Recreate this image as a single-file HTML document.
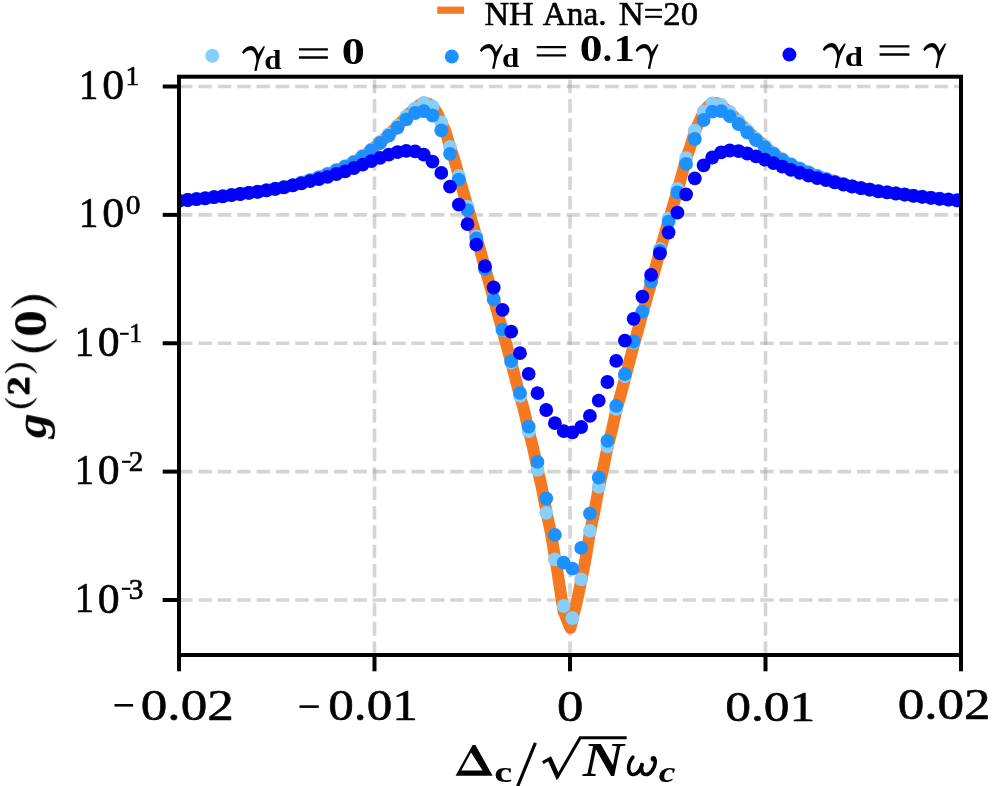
<!DOCTYPE html>
<html><head><meta charset="utf-8"><title>g2 plot</title>
<style>
html,body{margin:0;padding:0;background:#fff;}
body{width:998px;height:786px;overflow:hidden;font-family:"Liberation Serif",serif;}
svg{display:block;}
text{font-family:"Liberation Serif",serif;fill:#000;}
.b{font-weight:bold;}
.bi{font-weight:bold;font-style:italic;}
</style></head><body>
<svg width="998" height="786" viewBox="0 0 998 786">
<rect width="998" height="786" fill="#fff"/>
<defs><clipPath id="ax"><rect x="179.0" y="76.7" width="782.0" height="578.3"/></clipPath></defs>
<g stroke="#808080" stroke-opacity="0.33" stroke-width="3.6" stroke-dasharray="13.52 5.85" fill="none"><line x1="179.0" y1="86.50" x2="961.0" y2="86.50"/><line x1="179.0" y1="214.88" x2="961.0" y2="214.88"/><line x1="179.0" y1="343.25" x2="961.0" y2="343.25"/><line x1="179.0" y1="471.62" x2="961.0" y2="471.62"/><line x1="179.0" y1="600.00" x2="961.0" y2="600.00"/><line x1="179.0" y1="655.0" x2="179.0" y2="76.7"/><line x1="374.5" y1="655.0" x2="374.5" y2="76.7"/><line x1="570.0" y1="655.0" x2="570.0" y2="76.7"/><line x1="765.5" y1="655.0" x2="765.5" y2="76.7"/><line x1="961.0" y1="655.0" x2="961.0" y2="76.7"/></g>
<g clip-path="url(#ax)">
<path d="M177.0,200.8 L179.0,200.7 L181.0,200.5 L183.0,200.3 L185.0,200.1 L187.0,199.9 L189.0,199.7 L191.0,199.6 L193.0,199.4 L195.0,199.2 L197.0,199.0 L199.0,198.8 L201.0,198.6 L203.0,198.4 L205.0,198.2 L207.0,197.9 L209.0,197.7 L211.0,197.5 L213.0,197.3 L215.0,197.0 L217.0,196.8 L219.0,196.6 L221.0,196.3 L223.0,196.1 L225.0,195.9 L227.0,195.6 L229.0,195.4 L231.0,195.1 L233.0,194.8 L235.0,194.5 L237.0,194.3 L239.0,194.0 L241.0,193.8 L243.0,193.5 L245.0,193.3 L247.0,193.0 L249.0,192.8 L251.0,192.5 L253.0,192.3 L255.0,192.0 L257.0,191.8 L259.0,191.5 L261.0,191.3 L263.0,191.0 L265.0,190.6 L267.0,190.2 L269.0,189.8 L271.0,189.5 L273.0,189.1 L275.0,188.8 L277.0,188.5 L279.0,188.1 L281.0,187.7 L283.0,187.4 L285.0,187.0 L287.0,186.6 L289.0,186.1 L291.0,185.7 L293.0,185.2 L295.0,184.7 L297.0,184.0 L299.0,183.4 L301.0,182.7 L303.0,182.1 L305.0,181.5 L307.0,180.9 L309.0,180.3 L311.0,179.7 L313.0,179.2 L315.0,178.6 L317.0,177.9 L319.0,177.3 L321.0,176.6 L323.0,175.8 L325.0,175.1 L327.0,174.3 L329.0,173.5 L331.0,172.7 L333.0,171.9 L335.0,171.1 L337.0,170.2 L339.0,169.4 L341.0,168.5 L343.0,167.6 L345.0,166.7 L347.0,165.7 L349.0,164.7 L351.0,163.7 L353.0,162.6 L355.0,161.5 L357.0,160.2 L359.0,158.9 L361.0,157.6 L363.0,156.2 L365.0,154.8 L367.0,153.3 L369.0,151.9 L371.0,150.3 L373.0,148.7 L375.0,146.9 L377.0,145.1 L379.0,143.3 L381.0,141.6 L383.0,140.0 L385.0,138.3 L387.0,136.5 L389.0,134.5 L391.0,132.5 L393.0,130.5 L395.0,128.6 L397.0,126.7 L399.0,124.5 L401.0,122.2 L403.0,120.2 L405.0,118.2 L407.0,116.1 L409.0,113.8 L411.0,112.0 L413.0,110.5 L415.0,109.0 L417.0,107.0 L419.0,105.2 L421.0,104.1 L423.0,103.2 L425.0,103.0 L427.0,103.3 L429.0,103.9 L431.0,105.3 L433.0,107.1 L435.0,109.6 L437.0,112.8 L439.0,117.1 L441.0,121.8 L443.0,126.0 L445.0,130.3 L447.0,136.3 L449.0,143.4 L451.0,149.7 L453.0,155.4 L455.0,161.9 L457.0,169.3 L459.0,176.7 L461.0,183.8 L463.0,190.9 L465.0,197.9 L467.0,204.9 L469.0,211.7 L471.0,218.4 L473.0,225.1 L475.0,231.9 L477.0,238.9 L479.0,246.1 L481.0,253.4 L483.0,260.7 L485.0,268.0 L487.0,275.1 L489.0,282.2 L491.0,289.2 L493.0,296.3 L495.0,303.4 L497.0,310.5 L499.0,317.6 L501.0,324.8 L503.0,332.0 L505.0,339.3 L507.0,346.7 L509.0,354.2 L511.0,361.6 L513.0,369.3 L515.0,377.0 L517.0,384.7 L519.0,392.3 L521.0,399.5 L523.0,406.4 L525.0,414.4 L527.0,423.4 L529.0,432.0 L531.0,439.5 L533.0,447.5 L535.0,456.8 L537.0,466.6 L539.0,475.4 L541.0,483.8 L543.0,493.6 L545.0,504.4 L547.0,514.7 L549.0,523.7 L551.0,533.6 L553.0,545.5 L555.0,557.7 L556.7,567.0 L563.5,611.0 L570.4,628.0 L577.2,600.0 L584.1,566.7 L586.0,556.3 L588.0,544.0 L590.0,532.2 L592.0,522.6 L594.0,513.5 L596.0,503.0 L598.0,492.0 L600.0,482.4 L602.0,473.9 L604.0,464.6 L606.0,454.6 L608.0,445.3 L610.0,437.5 L612.0,429.6 L614.0,420.5 L616.0,411.6 L618.0,404.1 L620.0,397.3 L622.0,389.9 L624.0,382.2 L626.0,374.5 L628.0,366.8 L630.0,359.2 L632.0,351.7 L634.0,344.3 L636.0,337.0 L638.0,329.7 L640.0,322.4 L642.0,315.3 L644.0,308.2 L646.0,301.1 L648.0,294.0 L650.0,287.0 L652.0,279.9 L654.0,272.8 L656.0,265.7 L658.0,258.4 L660.0,251.0 L662.0,243.7 L664.0,236.6 L666.0,229.7 L668.0,222.9 L670.0,216.3 L672.0,209.5 L674.0,202.6 L676.0,195.7 L678.0,188.6 L680.0,181.5 L682.0,174.4 L684.0,166.9 L686.0,159.7 L688.0,153.5 L690.0,147.8 L692.0,141.1 L694.0,134.2 L696.0,128.8 L698.0,124.7 L700.0,120.3 L702.0,115.6 L704.0,111.6 L706.0,108.7 L708.0,106.5 L710.0,104.8 L712.0,103.6 L714.0,103.2 L716.0,103.0 L718.0,103.6 L720.0,104.5 L722.0,105.7 L724.0,107.8 L726.0,109.6 L728.0,111.0 L730.0,112.6 L732.0,114.6 L734.0,116.8 L736.0,118.8 L738.0,120.8 L740.0,123.0 L742.0,125.3 L744.0,127.3 L746.0,129.2 L748.0,131.1 L750.0,133.1 L752.0,135.1 L754.0,137.0 L756.0,138.9 L758.0,140.5 L760.0,142.1 L762.0,143.8 L764.0,145.6 L766.0,147.4 L768.0,149.2 L770.0,150.8 L772.0,152.3 L774.0,153.8 L776.0,155.2 L778.0,156.6 L780.0,158.0 L782.0,159.3 L784.0,160.6 L786.0,161.8 L788.0,163.0 L790.0,164.0 L792.0,165.0 L794.0,166.0 L796.0,167.0 L798.0,167.9 L800.0,168.8 L802.0,169.6 L804.0,170.5 L806.0,171.3 L808.0,172.1 L810.0,172.9 L812.0,173.7 L814.0,174.5 L816.0,175.3 L818.0,176.1 L820.0,176.8 L822.0,177.5 L824.0,178.1 L826.0,178.7 L828.0,179.3 L830.0,179.9 L832.0,180.5 L834.0,181.1 L836.0,181.7 L838.0,182.3 L840.0,182.9 L842.0,183.6 L844.0,184.2 L846.0,184.8 L848.0,185.4 L850.0,185.9 L852.0,186.3 L854.0,186.7 L856.0,187.1 L858.0,187.5 L860.0,187.9 L862.0,188.2 L864.0,188.6 L866.0,188.9 L868.0,189.2 L870.0,189.6 L872.0,190.0 L874.0,190.3 L876.0,190.7 L878.0,191.1 L880.0,191.4 L882.0,191.6 L884.0,191.9 L886.0,192.1 L888.0,192.4 L890.0,192.6 L892.0,192.9 L894.0,193.1 L896.0,193.4 L898.0,193.6 L900.0,193.9 L902.0,194.1 L904.0,194.4 L906.0,194.6 L908.0,194.9 L910.0,195.2 L912.0,195.5 L914.0,195.7 L916.0,196.0 L918.0,196.2 L920.0,196.4 L922.0,196.6 L924.0,196.9 L926.0,197.1 L928.0,197.3 L930.0,197.6 L932.0,197.8 L934.0,198.0 L936.0,198.3 L938.0,198.5 L940.0,198.7 L942.0,198.9 L944.0,199.1 L946.0,199.3 L948.0,199.4 L950.0,199.6 L952.0,199.8 L954.0,200.0 L956.0,200.2 L958.0,200.4 L960.0,200.5 L962.0,200.7" fill="none" stroke="#f47920" stroke-width="12.0" stroke-linejoin="round" stroke-linecap="butt"/>
<g fill="#87cefa"><circle cx="179.0" cy="200.6" r="6.9"/><circle cx="187.7" cy="199.8" r="6.9"/><circle cx="196.5" cy="199.0" r="6.9"/><circle cx="205.2" cy="198.1" r="6.9"/><circle cx="214.0" cy="197.0" r="6.9"/><circle cx="222.7" cy="196.1" r="6.9"/><circle cx="231.5" cy="194.9" r="6.9"/><circle cx="240.2" cy="193.8" r="6.9"/><circle cx="248.9" cy="192.7" r="6.9"/><circle cx="257.7" cy="191.6" r="6.9"/><circle cx="266.4" cy="190.2" r="6.9"/><circle cx="275.2" cy="188.7" r="6.9"/><circle cx="283.9" cy="187.1" r="6.9"/><circle cx="292.7" cy="185.2" r="6.9"/><circle cx="301.4" cy="182.5" r="6.9"/><circle cx="310.1" cy="179.9" r="6.9"/><circle cx="318.9" cy="177.1" r="6.9"/><circle cx="327.6" cy="173.7" r="6.9"/><circle cx="336.4" cy="170.0" r="6.9"/><circle cx="345.1" cy="166.1" r="6.9"/><circle cx="353.9" cy="161.6" r="6.9"/><circle cx="362.6" cy="156.0" r="6.9"/><circle cx="371.3" cy="149.5" r="6.9"/><circle cx="380.1" cy="141.8" r="6.9"/><circle cx="388.8" cy="134.2" r="6.9"/><circle cx="397.6" cy="125.6" r="6.9"/><circle cx="406.3" cy="116.4" r="6.9"/><circle cx="415.1" cy="108.5" r="6.9"/><circle cx="423.8" cy="103.0" r="6.9"/><circle cx="432.5" cy="106.6" r="6.9"/><circle cx="441.3" cy="122.5" r="6.9"/><circle cx="450.0" cy="146.8" r="6.9"/><circle cx="458.8" cy="175.9" r="6.9"/><circle cx="467.5" cy="206.7" r="6.9"/><circle cx="476.3" cy="236.3" r="6.9"/><circle cx="485.0" cy="268.0" r="6.9"/><circle cx="493.7" cy="299.0" r="6.9"/><circle cx="502.5" cy="330.2" r="6.9"/><circle cx="511.2" cy="362.5" r="6.9"/><circle cx="520.0" cy="395.9" r="6.9"/><circle cx="528.7" cy="431.2" r="6.9"/><circle cx="537.5" cy="469.9" r="6.9"/><circle cx="546.2" cy="512.8" r="6.9"/><circle cx="554.9" cy="559.4" r="6.9"/><circle cx="563.7" cy="606.0" r="6.9"/><circle cx="572.4" cy="618.0" r="6.9"/><circle cx="581.2" cy="579.4" r="6.9"/><circle cx="589.9" cy="530.8" r="6.9"/><circle cx="598.7" cy="486.9" r="6.9"/><circle cx="607.4" cy="446.4" r="6.9"/><circle cx="616.2" cy="408.9" r="6.9"/><circle cx="624.9" cy="376.2" r="6.9"/><circle cx="633.6" cy="342.5" r="6.9"/><circle cx="642.4" cy="311.6" r="6.9"/><circle cx="651.1" cy="280.7" r="6.9"/><circle cx="659.9" cy="249.1" r="6.9"/><circle cx="668.6" cy="218.7" r="6.9"/><circle cx="677.4" cy="188.9" r="6.9"/><circle cx="686.1" cy="158.2" r="6.9"/><circle cx="694.8" cy="130.7" r="6.9"/><circle cx="703.6" cy="111.7" r="6.9"/><circle cx="712.3" cy="103.4" r="6.9"/><circle cx="721.1" cy="105.0" r="6.9"/><circle cx="729.8" cy="112.2" r="6.9"/><circle cx="738.6" cy="121.2" r="6.9"/><circle cx="747.3" cy="130.3" r="6.9"/><circle cx="756.0" cy="138.7" r="6.9"/><circle cx="764.8" cy="146.2" r="6.9"/><circle cx="773.5" cy="153.2" r="6.9"/><circle cx="782.3" cy="159.2" r="6.9"/><circle cx="791.0" cy="164.2" r="6.9"/><circle cx="799.8" cy="168.3" r="6.9"/><circle cx="808.5" cy="172.1" r="6.9"/><circle cx="817.2" cy="175.7" r="6.9"/><circle cx="826.0" cy="178.7" r="6.9"/><circle cx="834.7" cy="181.3" r="6.9"/><circle cx="843.5" cy="184.1" r="6.9"/><circle cx="852.2" cy="186.3" r="6.9"/><circle cx="861.0" cy="188.0" r="6.9"/><circle cx="869.7" cy="189.5" r="6.9"/><circle cx="878.4" cy="191.1" r="6.9"/><circle cx="887.2" cy="192.2" r="6.9"/><circle cx="895.9" cy="193.3" r="6.9"/><circle cx="904.7" cy="194.4" r="6.9"/><circle cx="913.4" cy="195.6" r="6.9"/><circle cx="922.2" cy="196.6" r="6.9"/><circle cx="930.9" cy="197.6" r="6.9"/><circle cx="939.6" cy="198.6" r="6.9"/><circle cx="948.4" cy="199.4" r="6.9"/><circle cx="957.1" cy="200.2" r="6.9"/></g>
<g fill="#1e90ff"><circle cx="179.0" cy="200.7" r="6.9"/><circle cx="187.7" cy="199.9" r="6.9"/><circle cx="196.5" cy="199.1" r="6.9"/><circle cx="205.2" cy="198.2" r="6.9"/><circle cx="214.0" cy="197.1" r="6.9"/><circle cx="222.7" cy="196.2" r="6.9"/><circle cx="231.5" cy="195.0" r="6.9"/><circle cx="240.2" cy="193.9" r="6.9"/><circle cx="248.9" cy="192.8" r="6.9"/><circle cx="257.7" cy="191.7" r="6.9"/><circle cx="266.4" cy="190.3" r="6.9"/><circle cx="275.2" cy="188.8" r="6.9"/><circle cx="283.9" cy="187.2" r="6.9"/><circle cx="292.7" cy="185.3" r="6.9"/><circle cx="301.4" cy="182.9" r="6.9"/><circle cx="310.1" cy="180.3" r="6.9"/><circle cx="318.9" cy="177.5" r="6.9"/><circle cx="327.6" cy="174.2" r="6.9"/><circle cx="336.4" cy="170.5" r="6.9"/><circle cx="345.1" cy="166.6" r="6.9"/><circle cx="353.9" cy="162.2" r="6.9"/><circle cx="362.6" cy="156.7" r="6.9"/><circle cx="371.3" cy="150.4" r="6.9"/><circle cx="380.1" cy="143.0" r="6.9"/><circle cx="388.8" cy="135.6" r="6.9"/><circle cx="397.6" cy="127.6" r="6.9"/><circle cx="406.3" cy="119.4" r="6.9"/><circle cx="415.1" cy="113.0" r="6.9"/><circle cx="423.8" cy="111.1" r="6.9"/><circle cx="432.5" cy="115.5" r="6.9"/><circle cx="441.3" cy="130.4" r="6.9"/><circle cx="450.0" cy="153.8" r="6.9"/><circle cx="458.8" cy="179.7" r="6.9"/><circle cx="467.5" cy="210.1" r="6.9"/><circle cx="476.3" cy="238.4" r="6.9"/><circle cx="485.0" cy="269.2" r="6.9"/><circle cx="493.7" cy="299.3" r="6.9"/><circle cx="502.5" cy="329.6" r="6.9"/><circle cx="511.2" cy="361.0" r="6.9"/><circle cx="520.0" cy="392.9" r="6.9"/><circle cx="528.7" cy="426.7" r="6.9"/><circle cx="537.5" cy="461.9" r="6.9"/><circle cx="546.2" cy="498.5" r="6.9"/><circle cx="554.9" cy="534.8" r="6.9"/><circle cx="563.7" cy="562.7" r="6.9"/><circle cx="572.4" cy="568.7" r="6.9"/><circle cx="581.2" cy="547.9" r="6.9"/><circle cx="589.9" cy="513.6" r="6.9"/><circle cx="598.7" cy="477.6" r="6.9"/><circle cx="607.4" cy="440.8" r="6.9"/><circle cx="616.2" cy="405.8" r="6.9"/><circle cx="624.9" cy="374.1" r="6.9"/><circle cx="633.6" cy="341.5" r="6.9"/><circle cx="642.4" cy="311.6" r="6.9"/><circle cx="651.1" cy="281.5" r="6.9"/><circle cx="659.9" cy="250.8" r="6.9"/><circle cx="668.6" cy="221.7" r="6.9"/><circle cx="677.4" cy="192.3" r="6.9"/><circle cx="686.1" cy="163.9" r="6.9"/><circle cx="694.8" cy="139.0" r="6.9"/><circle cx="703.6" cy="120.0" r="6.9"/><circle cx="712.3" cy="111.7" r="6.9"/><circle cx="721.1" cy="111.1" r="6.9"/><circle cx="729.8" cy="116.2" r="6.9"/><circle cx="738.6" cy="124.0" r="6.9"/><circle cx="747.3" cy="132.3" r="6.9"/><circle cx="756.0" cy="140.0" r="6.9"/><circle cx="764.8" cy="147.1" r="6.9"/><circle cx="773.5" cy="154.0" r="6.9"/><circle cx="782.3" cy="159.9" r="6.9"/><circle cx="791.0" cy="164.7" r="6.9"/><circle cx="799.8" cy="168.8" r="6.9"/><circle cx="808.5" cy="172.6" r="6.9"/><circle cx="817.2" cy="176.1" r="6.9"/><circle cx="826.0" cy="179.1" r="6.9"/><circle cx="834.7" cy="181.8" r="6.9"/><circle cx="843.5" cy="184.3" r="6.9"/><circle cx="852.2" cy="186.4" r="6.9"/><circle cx="861.0" cy="188.1" r="6.9"/><circle cx="869.7" cy="189.6" r="6.9"/><circle cx="878.4" cy="191.2" r="6.9"/><circle cx="887.2" cy="192.3" r="6.9"/><circle cx="895.9" cy="193.4" r="6.9"/><circle cx="904.7" cy="194.5" r="6.9"/><circle cx="913.4" cy="195.7" r="6.9"/><circle cx="922.2" cy="196.7" r="6.9"/><circle cx="930.9" cy="197.7" r="6.9"/><circle cx="939.6" cy="198.7" r="6.9"/><circle cx="948.4" cy="199.5" r="6.9"/><circle cx="957.1" cy="200.3" r="6.9"/></g>
<g fill="#0000ff"><circle cx="179.0" cy="200.8" r="6.9"/><circle cx="187.7" cy="200.0" r="6.9"/><circle cx="196.5" cy="199.2" r="6.9"/><circle cx="205.2" cy="198.3" r="6.9"/><circle cx="214.0" cy="197.2" r="6.9"/><circle cx="222.7" cy="196.3" r="6.9"/><circle cx="231.5" cy="195.1" r="6.9"/><circle cx="240.2" cy="194.0" r="6.9"/><circle cx="248.9" cy="192.9" r="6.9"/><circle cx="257.7" cy="191.8" r="6.9"/><circle cx="266.4" cy="190.4" r="6.9"/><circle cx="275.2" cy="188.9" r="6.9"/><circle cx="283.9" cy="187.3" r="6.9"/><circle cx="292.7" cy="185.4" r="6.9"/><circle cx="301.4" cy="183.4" r="6.9"/><circle cx="310.1" cy="181.2" r="6.9"/><circle cx="318.9" cy="179.0" r="6.9"/><circle cx="327.6" cy="176.8" r="6.9"/><circle cx="336.4" cy="174.0" r="6.9"/><circle cx="345.1" cy="171.3" r="6.9"/><circle cx="353.9" cy="168.0" r="6.9"/><circle cx="362.6" cy="164.7" r="6.9"/><circle cx="371.3" cy="161.1" r="6.9"/><circle cx="380.1" cy="157.8" r="6.9"/><circle cx="388.8" cy="154.7" r="6.9"/><circle cx="397.6" cy="152.2" r="6.9"/><circle cx="406.3" cy="150.9" r="6.9"/><circle cx="415.1" cy="151.4" r="6.9"/><circle cx="423.8" cy="154.7" r="6.9"/><circle cx="432.5" cy="161.7" r="6.9"/><circle cx="441.3" cy="172.9" r="6.9"/><circle cx="450.0" cy="186.7" r="6.9"/><circle cx="458.8" cy="204.7" r="6.9"/><circle cx="467.5" cy="224.2" r="6.9"/><circle cx="476.3" cy="244.7" r="6.9"/><circle cx="485.0" cy="266.2" r="6.9"/><circle cx="493.7" cy="287.5" r="6.9"/><circle cx="502.5" cy="309.8" r="6.9"/><circle cx="511.2" cy="331.7" r="6.9"/><circle cx="520.0" cy="353.2" r="6.9"/><circle cx="528.7" cy="373.9" r="6.9"/><circle cx="537.5" cy="393.2" r="6.9"/><circle cx="546.2" cy="410.0" r="6.9"/><circle cx="554.9" cy="423.2" r="6.9"/><circle cx="563.7" cy="431.2" r="6.9"/><circle cx="572.4" cy="432.4" r="6.9"/><circle cx="581.2" cy="427.0" r="6.9"/><circle cx="589.9" cy="415.9" r="6.9"/><circle cx="598.7" cy="400.7" r="6.9"/><circle cx="607.4" cy="382.0" r="6.9"/><circle cx="616.2" cy="360.9" r="6.9"/><circle cx="624.9" cy="340.6" r="6.9"/><circle cx="633.6" cy="318.8" r="6.9"/><circle cx="642.4" cy="296.6" r="6.9"/><circle cx="651.1" cy="274.9" r="6.9"/><circle cx="659.9" cy="253.4" r="6.9"/><circle cx="668.6" cy="232.5" r="6.9"/><circle cx="677.4" cy="212.7" r="6.9"/><circle cx="686.1" cy="194.3" r="6.9"/><circle cx="694.8" cy="178.4" r="6.9"/><circle cx="703.6" cy="165.4" r="6.9"/><circle cx="712.3" cy="157.5" r="6.9"/><circle cx="721.1" cy="152.4" r="6.9"/><circle cx="729.8" cy="150.5" r="6.9"/><circle cx="738.6" cy="151.2" r="6.9"/><circle cx="747.3" cy="153.5" r="6.9"/><circle cx="756.0" cy="156.3" r="6.9"/><circle cx="764.8" cy="159.6" r="6.9"/><circle cx="773.5" cy="163.1" r="6.9"/><circle cx="782.3" cy="166.6" r="6.9"/><circle cx="791.0" cy="169.9" r="6.9"/><circle cx="799.8" cy="172.8" r="6.9"/><circle cx="808.5" cy="175.6" r="6.9"/><circle cx="817.2" cy="178.1" r="6.9"/><circle cx="826.0" cy="180.2" r="6.9"/><circle cx="834.7" cy="182.4" r="6.9"/><circle cx="843.5" cy="184.5" r="6.9"/><circle cx="852.2" cy="186.5" r="6.9"/><circle cx="861.0" cy="188.2" r="6.9"/><circle cx="869.7" cy="189.7" r="6.9"/><circle cx="878.4" cy="191.3" r="6.9"/><circle cx="887.2" cy="192.4" r="6.9"/><circle cx="895.9" cy="193.5" r="6.9"/><circle cx="904.7" cy="194.6" r="6.9"/><circle cx="913.4" cy="195.8" r="6.9"/><circle cx="922.2" cy="196.8" r="6.9"/><circle cx="930.9" cy="197.8" r="6.9"/><circle cx="939.6" cy="198.8" r="6.9"/><circle cx="948.4" cy="199.6" r="6.9"/><circle cx="957.1" cy="200.4" r="6.9"/></g>
</g>
<g stroke="#000" stroke-width="4" fill="none"><line x1="162.7" y1="86.50" x2="179.0" y2="86.50"/><line x1="162.7" y1="214.88" x2="179.0" y2="214.88"/><line x1="162.7" y1="343.25" x2="179.0" y2="343.25"/><line x1="162.7" y1="471.62" x2="179.0" y2="471.62"/><line x1="162.7" y1="600.00" x2="179.0" y2="600.00"/><line x1="179.0" y1="655.0" x2="179.0" y2="671.3"/><line x1="374.5" y1="655.0" x2="374.5" y2="671.3"/><line x1="570.0" y1="655.0" x2="570.0" y2="671.3"/><line x1="765.5" y1="655.0" x2="765.5" y2="671.3"/><line x1="961.0" y1="655.0" x2="961.0" y2="671.3"/></g>
<rect x="179.0" y="76.7" width="782.0" height="578.3" fill="none" stroke="#000" stroke-width="4"/>
<g opacity="0.995"><line x1="437.2" y1="10.2" x2="464.1" y2="10.2" stroke="#f47920" stroke-width="7.2"/><circle cx="212.3" cy="55.75" r="7" fill="#87cefa"/><circle cx="451.8" cy="56.6" r="7" fill="#1e90ff"/><circle cx="789.4" cy="54.6" r="7" fill="#0000ff"/><text transform="matrix(0.3408 0 0 0.3328 484.48 24.70)" font-size="100" stroke="#000" stroke-width="1.78" stroke-linejoin="round">NH</text><text transform="matrix(0.3326 0 0 0.3328 542.77 24.50)" font-size="100" stroke="#000" stroke-width="1.80" stroke-linejoin="round">Ana.</text><text transform="matrix(0.3477 0 0 0.3289 618.66 24.67)" font-size="100" stroke="#000" stroke-width="1.77" stroke-linejoin="round">N=20</text><text transform="matrix(0.3089 0 0 0.2729 264.36 68.83)" font-size="100" class="b">d</text><text transform="matrix(0.4619 0 0 0.3748 341.75 63.53)" font-size="100" class="b">0</text><text transform="matrix(0.3109 0 0 0.2743 502.06 66.53)" font-size="100" class="b">d</text><text transform="matrix(0.4548 0 0 0.3689 579.68 60.83)" font-size="100" class="b">0</text><text transform="matrix(0.3750 0 0 0.3687 602.71 60.55)" font-size="100" class="b">.</text><text transform="matrix(0.4189 0 0 0.3695 613.65 60.60)" font-size="100" class="b">1</text><text transform="matrix(0.3287 0 0 0.2714 844.69 65.63)" font-size="100" class="b">d</text><text transform="matrix(0.5317 0 0 0.4426 140.77 719.94)" font-size="100" stroke="#000" stroke-width="1.23" stroke-linejoin="round">0.02</text><text transform="matrix(0.5121 0 0 0.4382 328.25 720.44)" font-size="100" stroke="#000" stroke-width="1.26" stroke-linejoin="round">0.01</text><text transform="matrix(0.5286 0 0 0.4385 557.09 720.76)" font-size="100" stroke="#000" stroke-width="1.24" stroke-linejoin="round">0</text><text transform="matrix(0.5158 0 0 0.4309 725.14 720.55)" font-size="100" stroke="#000" stroke-width="1.27" stroke-linejoin="round">0.01</text><text transform="matrix(0.5317 0 0 0.4324 897.67 719.45)" font-size="100" stroke="#000" stroke-width="1.24" stroke-linejoin="round">0.02</text><text transform="matrix(0.3857 0 0 0.4168 79.03 98.90)" font-size="100" stroke="#000" stroke-width="1.50" stroke-linejoin="round">1</text><text transform="matrix(0.4381 0 0 0.4178 102.15 99.08)" font-size="100" stroke="#000" stroke-width="1.40" stroke-linejoin="round">0</text><text transform="matrix(0.2771 0 0 0.2824 125.61 85.30)" font-size="100" stroke="#000" stroke-width="2.14" stroke-linejoin="round">1</text><text transform="matrix(0.3857 0 0 0.4168 79.03 227.27)" font-size="100" stroke="#000" stroke-width="1.50" stroke-linejoin="round">1</text><text transform="matrix(0.4381 0 0 0.4178 102.15 227.46)" font-size="100" stroke="#000" stroke-width="1.40" stroke-linejoin="round">0</text><text transform="matrix(0.2952 0 0 0.2830 125.72 214.09)" font-size="100" stroke="#000" stroke-width="2.08" stroke-linejoin="round">0</text><text transform="matrix(0.3857 0 0 0.4168 74.73 355.65)" font-size="100" stroke="#000" stroke-width="1.50" stroke-linejoin="round">1</text><text transform="matrix(0.4381 0 0 0.4178 97.85 355.83)" font-size="100" stroke="#000" stroke-width="1.40" stroke-linejoin="round">0</text><text transform="matrix(0.1763 0 0 0.2800 119.52 343.19)" font-size="100" stroke="#000" stroke-width="2.63" stroke-linejoin="round">−</text><text transform="matrix(0.2571 0 0 0.2824 129.29 342.25)" font-size="100" stroke="#000" stroke-width="2.22" stroke-linejoin="round">1</text><text transform="matrix(0.3857 0 0 0.4168 74.73 484.02)" font-size="100" stroke="#000" stroke-width="1.50" stroke-linejoin="round">1</text><text transform="matrix(0.4381 0 0 0.4178 97.85 484.21)" font-size="100" stroke="#000" stroke-width="1.40" stroke-linejoin="round">0</text><text transform="matrix(0.1763 0 0 0.2800 121.52 470.86)" font-size="100" stroke="#000" stroke-width="2.63" stroke-linejoin="round">−</text><text transform="matrix(0.2925 0 0 0.2848 128.78 470.62)" font-size="100" stroke="#000" stroke-width="2.08" stroke-linejoin="round">2</text><text transform="matrix(0.3857 0 0 0.4168 74.73 612.40)" font-size="100" stroke="#000" stroke-width="1.50" stroke-linejoin="round">1</text><text transform="matrix(0.4381 0 0 0.4178 97.85 612.58)" font-size="100" stroke="#000" stroke-width="1.40" stroke-linejoin="round">0</text><text transform="matrix(0.1763 0 0 0.2800 121.32 598.24)" font-size="100" stroke="#000" stroke-width="2.63" stroke-linejoin="round">−</text><text transform="matrix(0.2927 0 0 0.2851 128.84 599.11)" font-size="100" stroke="#000" stroke-width="2.08" stroke-linejoin="round">3</text><text transform="matrix(0.4052 0 0 0.2937 494.28 782.01)" font-size="100" class="b">c</text><text transform="matrix(0.5697 0 0 0.4754 582.77 776.30)" font-size="100" class="bi">N</text><text transform="matrix(0.3759 0 0 0.2875 658.64 782.01)" font-size="100" class="bi">c</text><g fill="none" stroke="#000" stroke-width="3.6" stroke-linecap="round" stroke-linejoin="round"><path d="M632.9,757.2 C630,760.5 628.3,765 628.7,769.5 C629.1,773.5 631.5,774.9 634,774.5 C637.5,773.9 640.5,769.5 642,764.6"/><path d="M642,764.6 C640.8,768.5 641.5,774.5 645.9,774.5 C650.5,774.5 654.8,768 655.2,762.5 C655.4,760 654.8,758.8 653.5,758.5"/></g><circle cx="653.4" cy="758.7" r="2.8" fill="#000"/><path fill-rule="evenodd" d="M455.6,775.8 L472.6,745.0 L475.4,745.0 L492.6,775.8 Z M461.3,770.4 L482.6,770.4 L471.0,752.6 Z" fill="#000"/><line x1="114.5" y1="705.3" x2="133.1" y2="705.3" stroke="#000" stroke-width="2.6"/><line x1="299.5" y1="706.6" x2="318.8" y2="706.6" stroke="#000" stroke-width="2.6"/><path transform="translate(242.1 45.9)" d="M0,6.6 C1.5,3 5,0 9,0 C12.5,0 15,3.5 16.1,8 L21.3,0.3 L23,0.7 L17.5,12.6 C16.5,16 15.3,21 14.7,24.5 C14.2,25.2 12.6,25.2 12.3,24.3 C12.8,21 14.3,17 14.3,14 C14.3,10 12.5,6 10,4.6 C7.5,3.6 4,4.6 1.6,8 Z" fill="#000"/><path transform="translate(479.9 44.0)" d="M0,6.6 C1.5,3 5,0 9,0 C12.5,0 15,3.5 16.1,8 L21.3,0.3 L23,0.7 L17.5,12.6 C16.5,16 15.3,21 14.7,24.5 C14.2,25.2 12.6,25.2 12.3,24.3 C12.8,21 14.3,17 14.3,14 C14.3,10 12.5,6 10,4.6 C7.5,3.6 4,4.6 1.6,8 Z" fill="#000"/><path transform="translate(635.6 43.9)" d="M0,6.6 C1.5,3 5,0 9,0 C12.5,0 15,3.5 16.1,8 L21.3,0.3 L23,0.7 L17.5,12.6 C16.5,16 15.3,21 14.7,24.5 C14.2,25.2 12.6,25.2 12.3,24.3 C12.8,21 14.3,17 14.3,14 C14.3,10 12.5,6 10,4.6 C7.5,3.6 4,4.6 1.6,8 Z" fill="#000"/><path transform="translate(822.8 43.1)" d="M0,6.6 C1.5,3 5,0 9,0 C12.5,0 15,3.5 16.1,8 L21.3,0.3 L23,0.7 L17.5,12.6 C16.5,16 15.3,21 14.7,24.5 C14.2,25.2 12.6,25.2 12.3,24.3 C12.8,21 14.3,17 14.3,14 C14.3,10 12.5,6 10,4.6 C7.5,3.6 4,4.6 1.6,8 Z" fill="#000"/><path transform="translate(923.3 43.1)" d="M0,6.6 C1.5,3 5,0 9,0 C12.5,0 15,3.5 16.1,8 L21.3,0.3 L23,0.7 L17.5,12.6 C16.5,16 15.3,21 14.7,24.5 C14.2,25.2 12.6,25.2 12.3,24.3 C12.8,21 14.3,17 14.3,14 C14.3,10 12.5,6 10,4.6 C7.5,3.6 4,4.6 1.6,8 Z" fill="#000"/><path d="M299.0,49.4 H327.9 M299.0,57.5 H327.9" stroke="#000" stroke-width="2.3" stroke-linecap="butt" fill="none"/><path d="M536.7,47.2 H566.1 M536.7,55.3 H566.1" stroke="#000" stroke-width="2.3" stroke-linecap="butt" fill="none"/><path d="M879.6,46.4 H909.4 M879.6,54.5 H909.4" stroke="#000" stroke-width="2.3" stroke-linecap="butt" fill="none"/><line x1="535.4" y1="742.9" x2="517.6" y2="786.5" stroke="#000" stroke-width="3.2" stroke-linecap="butt"/><path d="M542.8,762.6 L550.2,758.4 L558.0,776.0 L580.2,737.7 L626.7,737.7" fill="none" stroke="#000" stroke-width="3.0" stroke-linejoin="miter"/><path d="M547.6,759.9 L551.6,757.6 L559.6,775.4 L556.8,780.2 Z" fill="#000"/><g transform="translate(47.1 439.2) rotate(-90)"><text transform="matrix(0.4970 0 0 0.4438 0.99 -1.42)" font-size="100" class="bi">g</text><path transform="translate(31.4 -41.8)" d="M9.4,0 A17.64,17.64 0 0 0 9.4,31.2 A21.29,21.29 0 0 1 9.4,0 Z" fill="#000" stroke="#000" stroke-width="0.9" stroke-linejoin="round"/><text transform="matrix(0.3783 0 0 0.3076 43.64 -18.35)" font-size="100" class="b" stroke="#000" stroke-width="2.62" stroke-linejoin="round">2</text><path transform="translate(66.3 -41.8)" d="M0,0 A17.64,17.64 0 0 1 0,31.2 A21.29,21.29 0 0 0 0,0 Z" fill="#000" stroke="#000" stroke-width="0.9" stroke-linejoin="round"/><path transform="translate(87.3 -35.6)" d="M12.1,0 A26.97,26.97 0 0 0 12.1,45.0 A34.65,34.65 0 0 1 12.1,0 Z" fill="#000" stroke="#000" stroke-width="0.9" stroke-linejoin="round"/><text transform="matrix(0.5381 0 0 0.4593 102.15 -1.26)" font-size="100" class="b">0</text><path transform="translate(131.7 -35.6)" d="M0,0 A26.97,26.97 0 0 1 0,45.0 A34.65,34.65 0 0 0 0,0 Z" fill="#000" stroke="#000" stroke-width="0.9" stroke-linejoin="round"/></g></g>
</svg>
</body></html>
